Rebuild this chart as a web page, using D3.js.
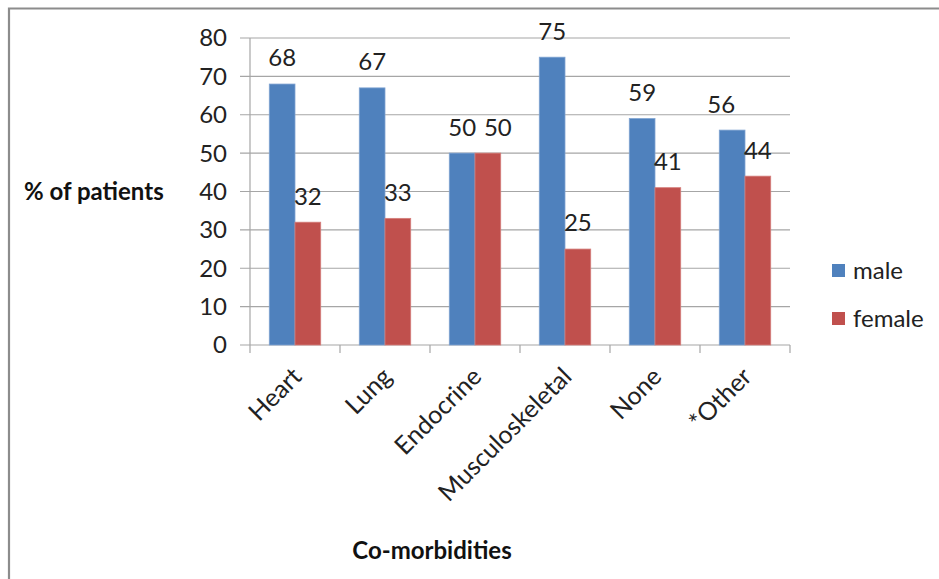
<!DOCTYPE html>
<html>
<head>
<meta charset="utf-8">
<script src="https://cdn.jsdelivr.net/npm/d3@7"></script>
<style>
  html, body { margin: 0; padding: 0; background: #fff; }
  svg { display: block; font-family: Lato, "Open Sans", sans-serif; }
</style>
</head>
<body>
<svg id="chart" width="939" height="579"></svg>
<script>
// Co-morbidities by sex, % of patients
const categories = ["Heart", "Lung", "Endocrine", "Musculoskeletal", "None", "*Other"];
const maleValues = [68, 67, 50, 75, 59, 56];
const femaleValues = [32, 33, 50, 25, 41, 44];
const seriesNames = ["male", "female"];
const yTicks = [0, 10, 20, 30, 40, 50, 60, 70, 80];

const colors = { male: "#4F81BD", female: "#C0504D" };
const strokes = { male: "#7fa3d1", female: "#d47e7b" };

const svg = d3.select("#chart");

// outer frame (left and top edges visible)
svg.append("path")
  .attr("d", "M9,579 V8.5 H939")
  .attr("fill", "none")
  .attr("stroke", "#8c8c8c")
  .attr("stroke-width", 2.2);

const plot = { left: 250, right: 790, top: 38, bottom: 345 };

const x = d3.scaleBand().domain(categories).range([plot.left, plot.right]).padding(0);
const y = d3.scaleLinear().domain([0, 80]).range([plot.bottom, plot.top]);

// bars take 2 of 3.5 slot widths (gap 150%)
const barW = x.bandwidth() / 3.5;
const inner = d3.scaleBand().domain(seriesNames)
  .range([0, barW * 2]);
const groupOffset = (x.bandwidth() - barW * 2) / 2;

// gridlines + y ticks
const gridColor = "#a6a6a6";
svg.append("g").selectAll("line").data(yTicks).join("line")
  .attr("x1", plot.left - 10).attr("x2", plot.right)
  .attr("y1", d => y(d)).attr("y2", d => y(d))
  .attr("stroke", gridColor).attr("stroke-width", 1.2);

svg.append("line")
  .attr("x1", plot.left).attr("x2", plot.left)
  .attr("y1", y(80)).attr("y2", y(0))
  .attr("stroke", gridColor).attr("stroke-width", 1.2);

svg.append("g").selectAll("text").data(yTicks).join("text")
  .attr("x", plot.left - 23).attr("y", d => y(d)).attr("dy", "0.35em")
  .attr("text-anchor", "end")
  .attr("font-size", 24).attr("fill", "#222")
  .text(d => d);

// x tick marks at category boundaries
const boundaries = categories.map(c => x(c)).concat([plot.right]);
svg.append("g").selectAll("line").data(boundaries).join("line")
  .attr("x1", d => d).attr("x2", d => d)
  .attr("y1", plot.bottom).attr("y2", plot.bottom + 8)
  .attr("stroke", gridColor).attr("stroke-width", 1.2);

// bars
const rows = [];
categories.forEach((c, i) => {
  rows.push({ cat: c, series: "male", value: maleValues[i] });
  rows.push({ cat: c, series: "female", value: femaleValues[i] });
});

svg.append("g").selectAll("rect").data(rows).join("rect")
  .attr("x", d => x(d.cat) + groupOffset + inner(d.series))
  .attr("y", d => y(d.value))
  .attr("width", barW)
  .attr("height", d => y(0) - y(d.value))
  .attr("fill", d => colors[d.series])
  .attr("stroke", d => strokes[d.series])
  .attr("stroke-width", 0.8);

// value labels above each bar (a couple nudged sideways to avoid crowding)
const nudge = { "Endocrine|female": 10, "*Other|male": -11 };
svg.append("g").selectAll("text").data(rows).join("text")
  .attr("x", d => x(d.cat) + groupOffset + inner(d.series) + barW / 2 + (nudge[d.cat + "|" + d.series] || 0))
  .attr("y", d => y(d.value) - 26)
  .attr("dy", "0.35em")
  .attr("text-anchor", "middle")
  .attr("font-size", 24).attr("fill", "#222")
  .text(d => d.value);

// rotated category labels
svg.append("g").selectAll("text").data(categories).join("text")
  .attr("transform", d => `translate(${x(d) + x.bandwidth() / 2 + 2},${plot.bottom + 27}) rotate(-45)`)
  .attr("text-anchor", "end")
  .attr("dy", "0.35em")
  .attr("font-size", 25).attr("fill", "#222")
  .text(d => d);

// axis titles
svg.append("text")
  .attr("x", 24).attr("y", 192).attr("dy", "0.35em")
  .attr("font-size", 24).attr("font-weight", "bold").attr("fill", "#111")
  .text("% of patients");

svg.append("text")
  .attr("x", 432).attr("y", 551).attr("dy", "0.35em")
  .attr("text-anchor", "middle")
  .attr("font-size", 24).attr("font-weight", "bold").attr("fill", "#111")
  .text("Co-morbidities");

// legend
const legend = svg.append("g").selectAll("g").data(seriesNames).join("g")
  .attr("transform", (d, i) => `translate(832,${271 + i * 48})`);
legend.append("rect")
  .attr("x", 0).attr("y", -7).attr("width", 13).attr("height", 13)
  .attr("fill", d => colors[d]);
legend.append("text")
  .attr("x", 21).attr("y", 0).attr("dy", "0.35em")
  .attr("font-size", 24).attr("fill", "#222")
  .text(d => d);
</script>
</body>
</html>
